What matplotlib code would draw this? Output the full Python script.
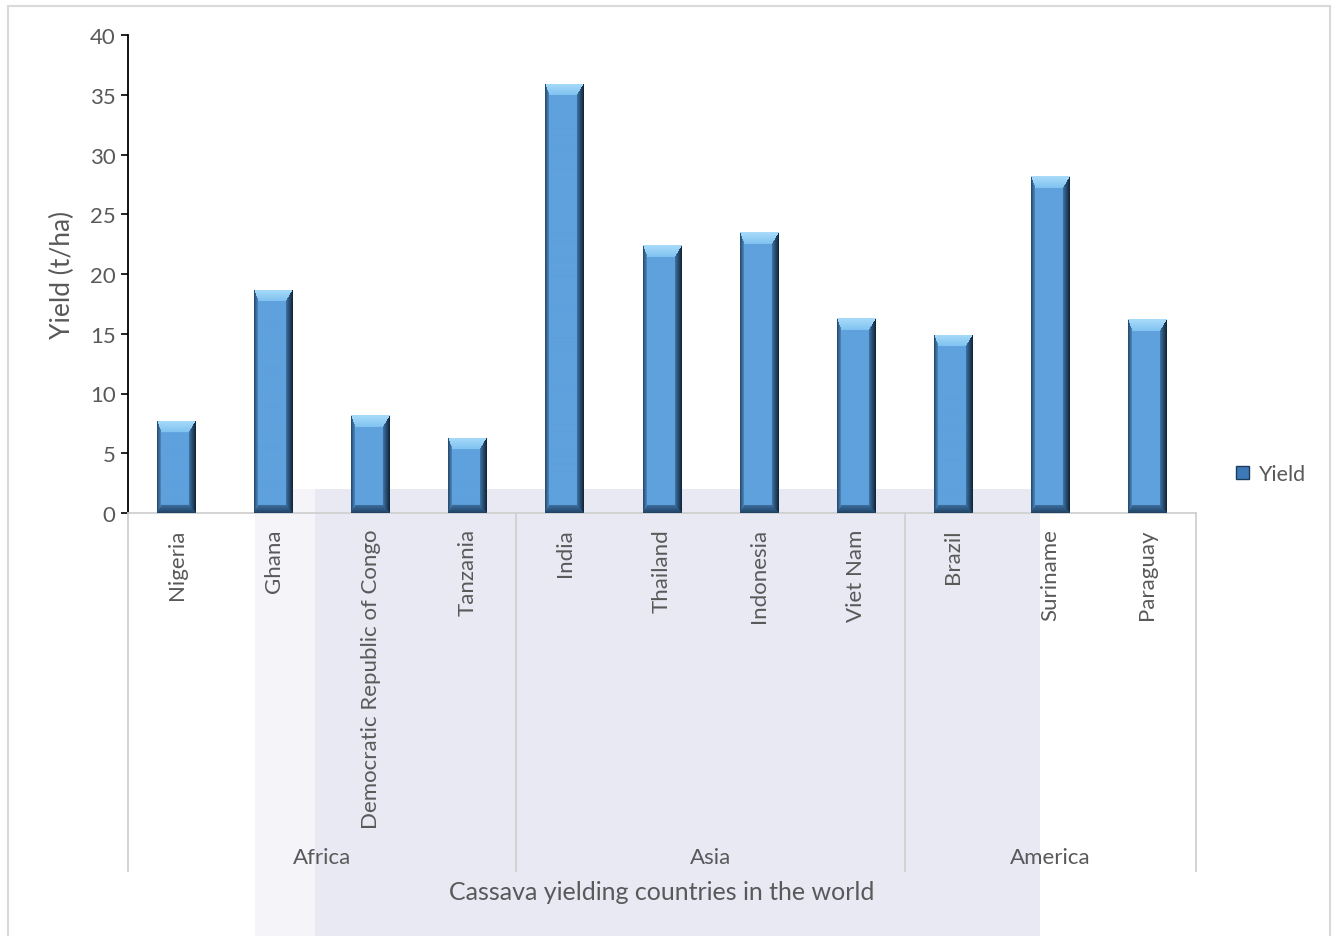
import numpy as np
import matplotlib.pyplot as plt
from matplotlib.patches import Rectangle, Patch
from matplotlib.transforms import blended_transform_factory

countries = ['Nigeria', 'Ghana', 'Democratic Republic of Congo', 'Tanzania',
             'India', 'Thailand', 'Indonesia', 'Viet Nam',
             'Brazil', 'Suriname', 'Paraguay']
yields = [7.7, 18.7, 8.2, 6.3, 35.9, 22.4, 23.5, 16.3, 14.9, 28.2, 16.2]
regions = ['Africa', 'Asia', 'America']
region_sizes = [4, 4, 3]

plt.rcParams['font.family'] = ['Lato', 'DejaVu Sans']
txt = '#595959'

W, H, DPI = 1333, 937, 100
fig = plt.figure(figsize=(W / DPI, H / DPI), dpi=DPI)

# faint watermark block + chart border
fig.patches.append(Rectangle((255 / W, 0), 60 / W, (H - 490) / H, transform=fig.transFigure,
                             facecolor='#f4f4f9', edgecolor='none', zorder=-2))
fig.patches.append(Rectangle((315 / W, 0), 725 / W, (H - 490) / H, transform=fig.transFigure,
                             facecolor='#e9e9f4', edgecolor='none', zorder=-2))
fig.patches.append(Rectangle((8 / W, -0.02), 1322 / W, (H - 7) / H + 0.02, transform=fig.transFigure,
                             facecolor='none', edgecolor='#d9d9d9', lw=1.5, zorder=-1))

ax_l, ax_r, ax_t, ax_b = 128, 1196, 36, 514
ax = fig.add_axes([ax_l / W, (H - ax_b) / H, (ax_r - ax_l) / W, (ax_b - ax_t) / H])
ax.patch.set_alpha(0)

x = np.arange(len(countries))
bw = 0.4
bars = ax.bar(x, yields, width=bw, color='#5ea1dd', edgecolor='none', zorder=2)
ax.set_xlim(-0.5, len(countries) - 0.5)
ax.set_ylim(0, 40)

# bevel shading for each bar
px_x = (ax_r - ax_l) / len(countries)
px_y = (ax_b - ax_t) / 40.0


def hexrgb(h):
    h = h.lstrip('#')
    return np.array([int(h[i:i + 2], 16) / 255 for i in (0, 2, 4)])


faces = {
    'l': (hexrgb('#23466a'), hexrgb('#5491c9'), 4.5),
    'r': (hexrgb('#0f2236'), hexrgb('#3f74a6'), 7.0),
    't': (hexrgb('#a9dcfa'), hexrgb('#80c2f0'), 12.0),
    'b': (hexrgb('#1f4264'), hexrgb('#3c6e9e'), 8.0),
}
center = hexrgb('#5ea1dd')

for b in bars:
    bx, bh = b.get_x(), b.get_height()
    nx = max(int(round(bw * px_x)), 2)
    ny = max(int(round(bh * px_y)), 2)
    xx, yy = np.meshgrid(np.arange(nx) + 0.5, np.arange(ny) + 0.5)
    d = np.stack([xx / faces['l'][2], (nx - xx) / faces['r'][2],
                  yy / faces['t'][2], (ny - yy) / faces['b'][2]])
    which = d.argmin(axis=0)
    t = np.clip(d.min(axis=0), 0, 1)
    img = np.tile(center, (ny, nx, 1))
    for k, key in enumerate('lrtb'):
        edge, inner, _ = faces[key]
        m = (which == k) & (t < 1)
        tt = t[m][:, None]
        img[m] = edge * (1 - tt) + inner * tt
    im = ax.imshow(img, extent=(bx, bx + bw, 0, bh), origin='upper', aspect='auto',
                   interpolation='bilinear', zorder=3)
    im.set_clip_path(b)

ax.set_xlim(-0.5, len(countries) - 0.5)
ax.set_ylim(0, 40)

ax.set_yticks(np.arange(0, 41, 5))
ax.tick_params(axis='y', direction='out', length=5, width=1.2, color='black',
               labelsize=16, labelcolor=txt, pad=4)
ax.set_xticks(x)
ax.set_xticklabels(countries, rotation=90, ha='center', va='top', fontsize=16, color=txt)
ax.tick_params(axis='x', length=0, pad=11)

for s in ['top', 'right']:
    ax.spines[s].set_visible(False)
ax.spines['left'].set_color('black')
ax.spines['left'].set_linewidth(1.3)
ax.spines['bottom'].set_color('#d0d0d0')
ax.spines['bottom'].set_linewidth(1.3)

# region dividers and labels
tr = blended_transform_factory(ax.transData, ax.transAxes)
y_end = -(872 - ax_b) / (ax_b - ax_t)
y_lab = -(858 - ax_b) / (ax_b - ax_t)
bounds = [-0.5]
for n in region_sizes:
    bounds.append(bounds[-1] + n)
for bnd in bounds:
    ax.plot([bnd, bnd], [0, y_end], transform=tr, color='#d0d0d0', lw=1.3, clip_on=False)
for name, a, c in zip(regions, bounds[:-1], bounds[1:]):
    ax.text((a + c) / 2, y_lab, name, transform=tr, ha='center', va='center',
            fontsize=16, color=txt)

ax.text(0.5, -(893 - ax_b) / (ax_b - ax_t), 'Cassava yielding countries in the world',
        transform=ax.transAxes, ha='center', va='center', fontsize=18, color=txt)
ax.text(-(ax_l - 62) / (ax_r - ax_l), 0.5, 'Yield (t/ha)', transform=ax.transAxes,
        rotation=90, ha='center', va='center', fontsize=19, color=txt)

handle = Patch(facecolor='#3c79b6', edgecolor='#1d3c5c', label='Yield')
fig.legend(handles=[handle], loc='center left', bbox_to_anchor=(1217 / W, (H - 475) / H),
           frameon=False, handlelength=0.6, handleheight=0.6, handletextpad=0.4,
           fontsize=15.5, labelcolor=txt)

plt.savefig('out.png', dpi=DPI)
